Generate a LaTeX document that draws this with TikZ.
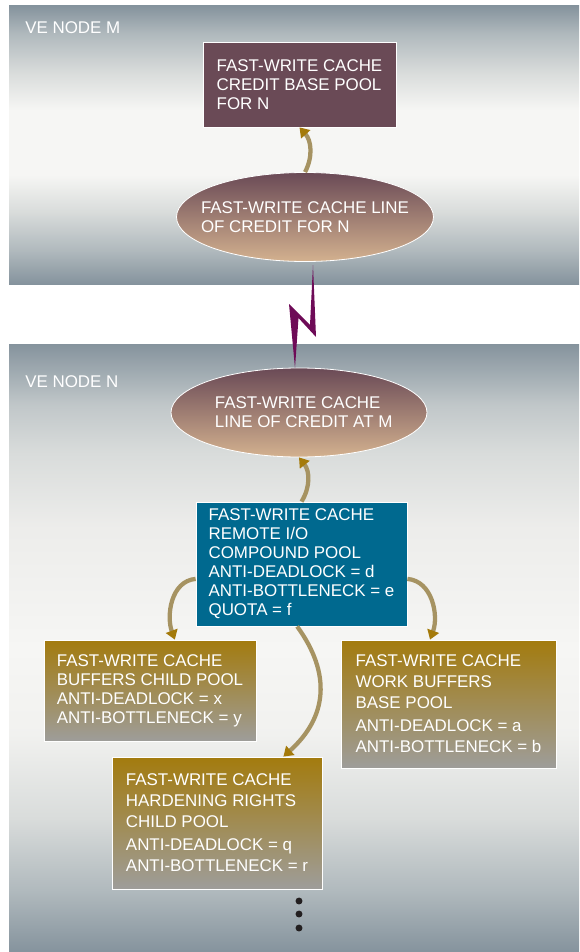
\documentclass[tikz,border=0pt]{standalone}
\usepackage{fontspec}
\setmainfont{Liberation Sans}
\usetikzlibrary{shapes.geometric,arrows.meta}

\definecolor{panelgray}{HTML}{85939D}
\definecolor{panelmid}{HTML}{B0B9BD}
\definecolor{panellight}{HTML}{D9DCDB}
\definecolor{panelwhite}{HTML}{F6F6F4}
\definecolor{plum}{HTML}{6A4A56}
\definecolor{creditlow}{HTML}{D3B18F}
\definecolor{remoteblue}{HTML}{00698F}
\definecolor{poolgold}{HTML}{A37B0E}
\definecolor{poolgray}{HTML}{9E9D9A}
\definecolor{flowcol}{HTML}{A69362}
\definecolor{flowgold}{HTML}{A47A0A}
\definecolor{boltpurple}{HTML}{6E0B57}
\definecolor{dotcol}{HTML}{231F20}

\pgfdeclareverticalshading{panelM}{100bp}{color(0bp)=(panelgray); color(25bp)=(panelgray);
  color(31bp)=(panelmid); color(38bp)=(panellight); color(44.6bp)=(panelwhite);
  color(56.3bp)=(panelwhite); color(63bp)=(panellight); color(70bp)=(panelmid);
  color(75bp)=(panelgray); color(100bp)=(panelgray)}
\pgfdeclareverticalshading{panelN}{100bp}{color(0bp)=(panelgray); color(25bp)=(panelgray);
  color(30bp)=(panelmid); color(36bp)=(panellight); color(43bp)=(panelwhite!96!gray);
  color(50bp)=(panelwhite); color(60bp)=(panelwhite!92!gray); color(66bp)=(panellight);
  color(70bp)=(panelmid!60!panellight); color(75bp)=(panelgray); color(100bp)=(panelgray)}

\begin{document}
\begin{tikzpicture}[x=0.75pt, y=0.75pt, font=\fontsize{12.7}{14.25}\selectfont]
    % Define the styles for each node
    \tikzstyle{poolbox} = [rectangle, draw=white, line width=0.6pt, text=white, align=left, inner sep=0pt]
    \tikzstyle{plumbox} = [poolbox, fill=plum]
    \tikzstyle{bluebox} = [poolbox, fill=remoteblue]
    \tikzstyle{goldbox} = [poolbox, top color=poolgold, bottom color=poolgray, font=\fontsize{12.7}{15.75}\selectfont]
    \tikzstyle{credit} = [ellipse, draw=white, line width=0.6pt, inner sep=0pt, top color=plum, bottom color=creditlow]
    \tikzstyle{credittext} = [text=white, align=left, inner sep=0pt]
    \tikzstyle{panellabel} = [text=white, anchor=west, inner sep=0pt]
    \tikzstyle{flow} = [line width=3.2pt, draw=flowcol, -{Triangle[width=9pt,length=7pt,color=flowgold]}]

    % Draw the two panels
    \useasboundingbox (0,0) rectangle (579,-952);
    \shade [shading=panelM] (9,-6) rectangle (579,-284);
    \shade [shading=panelN] (9,-344) rectangle (579,-952);

    % Create the nodes for VE node M
    \node [panellabel] (labelM) at (25,-28) {VE NODE M};
    \node [plumbox, minimum width=144.75pt, minimum height=63.75pt] (basepool) at (299.5,-84.5) {
        FAST-WRITE CACHE\\
        CREDIT BASE POOL\\
        FOR N
    };
    \node [credit, minimum width=192.75pt, minimum height=66.75pt] (lineM) at (305,-217) {};
    \node [credittext] (lineMtext) at (lineM) {
        FAST-WRITE CACHE LINE\\
        OF CREDIT FOR N
    };

    % Create the nodes for VE node N
    \node [panellabel] (labelN) at (25,-382) {VE NODE N};
    \node [credit, minimum width=192pt, minimum height=66.75pt] (lineN) at (299,-412.5) {};
    \node [credittext, xshift=3.5pt] (lineNtext) at (lineN) {
        FAST-WRITE CACHE\\
        LINE OF CREDIT AT M
    };
    \node [bluebox, minimum width=158.25pt, minimum height=93pt] (remote) at (301.5,-564) {
        FAST-WRITE CACHE\\
        REMOTE I/O\\
        COMPOUND POOL\\
        ANTI-DEADLOCK = d\\
        ANTI-BOTTLENECK = e\\
        QUOTA = f
    };
    \node [goldbox, minimum width=159pt, minimum height=75.75pt, font=\fontsize{12.7}{14.25}\selectfont] (bufpool) at (150,-690.5) {
        FAST-WRITE CACHE\\
        BUFFERS CHILD POOL\\
        ANTI-DEADLOCK = x\\
        ANTI-BOTTLENECK = y
    };
    \node [goldbox, minimum width=161.25pt, minimum height=96pt] (workpool) at (448.5,-704) {
        FAST-WRITE CACHE\\
        WORK BUFFERS\\
        BASE POOL\\[1.5pt]
        ANTI-DEADLOCK = a\\
        ANTI-BOTTLENECK = b
    };
    \node [goldbox, minimum width=157.5pt, minimum height=99pt] (hardpool) at (217,-823) {
        FAST-WRITE CACHE\\
        HARDENING RIGHTS\\
        CHILD POOL\\[1.5pt]
        ANTI-DEADLOCK = q\\
        ANTI-BOTTLENECK = r
    };

    % Draw the link between the two VE nodes
    \fill [boltpurple] (313,-265) -- (316,-337) -- (298.5,-318) -- (295,-368) -- (289,-304) -- (310,-325) -- cycle;

    % Draw the arrows between the nodes
    \draw [flow] (lineM.north) to [bend right=35] (basepool.south);
    \draw [flow] (remote.north) to [bend right=35] (lineN.south);
    \draw [flow] (remote.188) to [out=185, in=110] (bufpool.64);
    \draw [flow] (remote.-8) to [out=-5, in=70] (workpool.106);
    \draw [flow] (remote.266) to [bend left=42, looseness=1.15] (hardpool.45);

    % More pools follow
    \foreach \y in {901,914,928}
        \fill [dotcol] (299,-\y) circle (2.6pt);
\end{tikzpicture}
\end{document}
